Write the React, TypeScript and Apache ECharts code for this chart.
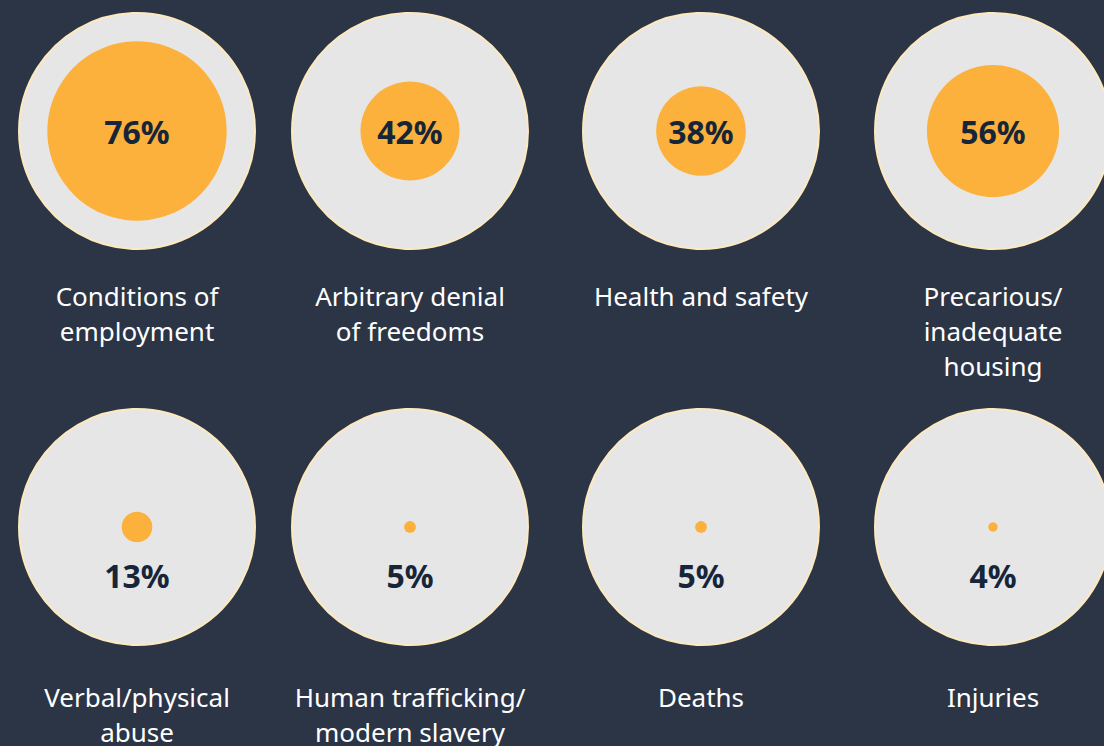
import React, { useEffect, useRef } from "react";
import * as echarts from "echarts";

// ---- Data ----
const categories: string[] = [
  "Conditions of\nemployment",
  "Arbitrary denial\nof freedoms",
  "Health and safety",
  "Precarious/\ninadequate\nhousing",
  "Verbal/physical\nabuse",
  "Human trafficking/\nmodern slavery",
  "Deaths",
  "Injuries",
];
const values: number[] = [76, 42, 38, 56, 13, 5, 5, 4];

// ---- Layout (not data) ----
const COLS = 4;
const COL_CENTERS = [137, 410, 701, 993];
const OUTER_R = 118;
const ROW0_Y = 131;
const ROW1_Y = 527;
const LABEL_OFFSET = [147, 152];

const BG = "#2b3546";
const GREY = "#e6e6e6";
const RIM = "#fde9bd";
const ORANGE = "#fbb13c";
const DARK = "#172538";
const FONT = "'Noto Sans', 'Open Sans', sans-serif";

export default function App() {
  const ref = useRef<HTMLDivElement>(null);

  useEffect(() => {
    if (!ref.current) return;
    const chart = echarts.init(ref.current, undefined, { renderer: "svg" });

    const grids: any[] = [];
    const xAxes: any[] = [];
    const yAxes: any[] = [];
    const series: any[] = [];

    for (let c = 0; c < COLS; c++) {
      // grid spans from the circle's left edge to its centre: x = -1 .. 0
      grids.push({
        left: COL_CENTERS[c] - OUTER_R,
        width: OUTER_R,
        top: ROW0_Y,
        height: ROW1_Y - ROW0_Y,
        containLabel: false,
      });
      xAxes.push({ type: "value", gridIndex: c, min: -1, max: 0, show: false });
      yAxes.push({ type: "value", gridIndex: c, min: 0, max: 1, inverse: true, show: false });

      const data: number[][] = [];
      for (let i = c; i < values.length; i += COLS) {
        const row = Math.floor(i / COLS);
        data.push([0, row, values[i], i]);
      }

      series.push({
        type: "custom",
        coordinateSystem: "cartesian2d",
        xAxisIndex: c,
        yAxisIndex: c,
        clip: false,
        data,
        renderItem: (params: any, api: any) => {
          const pt = api.coord([api.value(0), api.value(1)]);
          const R = api.size([2, 0])[0] / 2;
          const v = api.value(2) as number;
          const r = api.size([(2 * v) / 100, 0])[0] / 2;
          const row = api.value(1) as number;
          const idx = api.value(3) as number;
          const inside = r > 40;
          return {
            type: "group",
            children: [
              {
                type: "circle",
                shape: { cx: pt[0], cy: pt[1], r: R },
                style: { fill: GREY, stroke: RIM, lineWidth: 2 },
              },
              {
                type: "circle",
                shape: { cx: pt[0], cy: pt[1], r },
                style: { fill: ORANGE },
              },
              {
                type: "text",
                x: pt[0],
                y: inside ? pt[1] : pt[1] + 48,
                style: {
                  text: `${v}%`,
                  fill: DARK,
                  fontSize: 32,
                  fontWeight: "bold",
                  fontFamily: FONT,
                  align: "center",
                  verticalAlign: "middle",
                },
              },
              {
                type: "text",
                x: pt[0],
                y: pt[1] + LABEL_OFFSET[row],
                style: {
                  text: categories[idx],
                  fill: "#ffffff",
                  fontSize: 26,
                  fontFamily: FONT,
                  lineHeight: 35,
                  align: "center",
                  verticalAlign: "top",
                },
              },
            ],
          };
        },
      });
    }

    chart.setOption({
      animation: false,
      backgroundColor: BG,
      grid: grids,
      xAxis: xAxes,
      yAxis: yAxes,
      series,
    });

    return () => chart.dispose();
  }, []);

  return (
    <div
      ref={ref}
      style={{ position: "fixed", left: 0, top: 0, width: 1104, height: 746, background: BG }}
    />
  );
}
